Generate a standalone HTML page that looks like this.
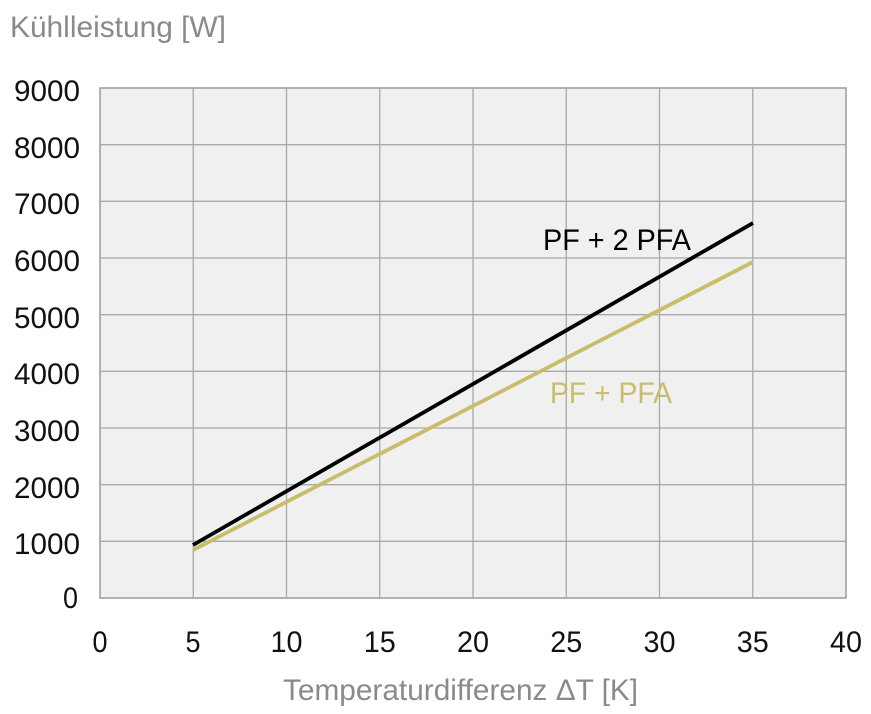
<!DOCTYPE html>
<html><head><meta charset="utf-8"><style>body{margin:0;background:#fff}svg{display:block}</style></head>
<body>
<svg width="871" height="714" xmlns="http://www.w3.org/2000/svg" font-family="Liberation Sans Narrow, Liberation Sans, sans-serif">
<rect x="100" y="88" width="746" height="510" fill="#f0f0f0" stroke="#9a9a9a" stroke-width="1.5"/>
<g stroke="#a8a8a8" stroke-width="1.3">
<line x1="193.25" y1="88" x2="193.25" y2="598"/><line x1="286.5" y1="88" x2="286.5" y2="598"/>
<line x1="379.75" y1="88" x2="379.75" y2="598"/><line x1="473" y1="88" x2="473" y2="598"/>
<line x1="566.25" y1="88" x2="566.25" y2="598"/><line x1="659.5" y1="88" x2="659.5" y2="598"/>
<line x1="752.75" y1="88" x2="752.75" y2="598"/>
<line x1="100" y1="144.7" x2="846" y2="144.7"/><line x1="100" y1="201.3" x2="846" y2="201.3"/>
<line x1="100" y1="258" x2="846" y2="258"/><line x1="100" y1="314.7" x2="846" y2="314.7"/>
<line x1="100" y1="371.3" x2="846" y2="371.3"/><line x1="100" y1="428" x2="846" y2="428"/>
<line x1="100" y1="484.7" x2="846" y2="484.7"/><line x1="100" y1="541.3" x2="846" y2="541.3"/>
</g>
<line x1="193" y1="550" x2="753" y2="262" stroke="#c8bd6a" stroke-width="3.8"/>
<line x1="193" y1="545" x2="753" y2="223" stroke="#000" stroke-width="3.8"/>
<g font-size="30" fill="#111" text-anchor="end">
<text x="80" y="101" textLength="66" lengthAdjust="spacingAndGlyphs">9000</text>
<text x="80" y="158" textLength="66" lengthAdjust="spacingAndGlyphs">8000</text>
<text x="80" y="214" textLength="66" lengthAdjust="spacingAndGlyphs">7000</text>
<text x="80" y="271" textLength="66" lengthAdjust="spacingAndGlyphs">6000</text>
<text x="80" y="328" textLength="66" lengthAdjust="spacingAndGlyphs">5000</text>
<text x="80" y="384" textLength="66" lengthAdjust="spacingAndGlyphs">4000</text>
<text x="80" y="441" textLength="66" lengthAdjust="spacingAndGlyphs">3000</text>
<text x="80" y="498" textLength="66" lengthAdjust="spacingAndGlyphs">2000</text>
<text x="80" y="554" textLength="66" lengthAdjust="spacingAndGlyphs">1000</text>
<text x="78" y="608" textLength="15" lengthAdjust="spacingAndGlyphs">0</text>
</g>
<g font-size="30" fill="#111" text-anchor="middle">
<text x="100" y="652" textLength="15" lengthAdjust="spacingAndGlyphs">0</text>
<text x="193" y="652" textLength="15" lengthAdjust="spacingAndGlyphs">5</text>
<text x="286.5" y="652" textLength="32" lengthAdjust="spacingAndGlyphs">10</text>
<text x="379.75" y="652" textLength="32" lengthAdjust="spacingAndGlyphs">15</text>
<text x="473" y="652" textLength="32" lengthAdjust="spacingAndGlyphs">20</text>
<text x="566.25" y="652" textLength="32" lengthAdjust="spacingAndGlyphs">25</text>
<text x="659.5" y="652" textLength="32" lengthAdjust="spacingAndGlyphs">30</text>
<text x="752.75" y="652" textLength="32" lengthAdjust="spacingAndGlyphs">35</text>
<text x="846" y="652" textLength="32" lengthAdjust="spacingAndGlyphs">40</text>
</g>
<text x="10" y="37" font-size="30" fill="#8a8a8a" textLength="216" lengthAdjust="spacingAndGlyphs">Kühlleistung [W]</text>
<text x="283" y="700" font-size="30" fill="#8a8a8a" textLength="355" lengthAdjust="spacingAndGlyphs">Temperaturdifferenz ΔT [K]</text>
<text x="543" y="250" font-size="30" fill="#000" textLength="148" lengthAdjust="spacingAndGlyphs">PF + 2 PFA</text>
<text x="550" y="403" font-size="30" fill="#c8bd6a" textLength="122" lengthAdjust="spacingAndGlyphs">PF + PFA</text>
</svg>
</body></html>
